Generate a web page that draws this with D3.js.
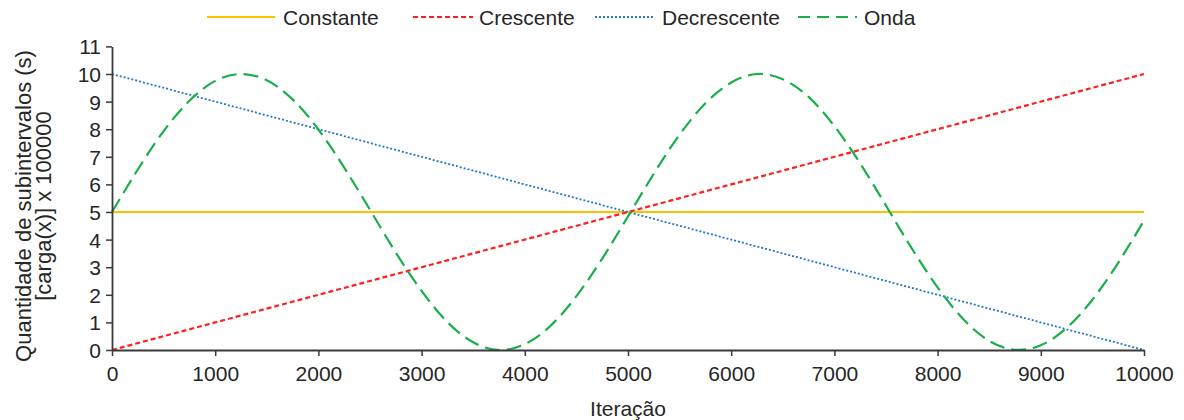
<!DOCTYPE html>
<html>
<head>
<meta charset="utf-8">
<script src="https://cdn.jsdelivr.net/npm/d3@7/dist/d3.min.js"></script>
<style>
  html, body { margin: 0; padding: 0; background: #fff; }
  svg text { font-family: "Liberation Sans", Arial, sans-serif; fill: #262626; }
</style>
</head>
<body>
<svg id="chart" width="1184" height="420"></svg>
<script>
// Iteration positions (x) shared by every series
const iteracoes = [0, 250, 500, 750, 1000, 1250, 1500, 1750, 2000, 2250, 2500,
  2750, 3000, 3250, 3500, 3750, 4000, 4250, 4500, 4750, 5000,
  5250, 5500, 5750, 6000, 6250, 6500, 6750, 7000, 7250, 7500,
  7750, 8000, 8250, 8500, 8750, 9000, 9250, 9500, 9750, 10000];

// Load profiles, subintervals [carga(x)] x 100000
const constante   = [5, 5];
const crescente   = [0, 10];
const decrescente = [10, 0];
const extremos    = [0, 10000];
const onda = [5.00, 6.54, 7.93, 9.03, 9.75, 10.00, 9.77, 9.08, 7.99, 6.61, 5.08,
  3.53, 2.14, 1.01, 0.28, 0.00, 0.21, 0.88, 1.95, 3.31, 4.84,
  6.39, 7.80, 8.94, 9.69, 10.00, 9.81, 9.17, 8.11, 6.76, 5.23,
  3.68, 2.27, 1.11, 0.33, 0.01, 0.17, 0.80, 1.82, 3.16, 4.69];

const xTicks = [0, 1000, 2000, 3000, 4000, 5000, 6000, 7000, 8000, 9000, 10000];
const yTicks = [0, 1, 2, 3, 4, 5, 6, 7, 8, 9, 10, 11];

const svg = d3.select("#chart");
const plotLeft = 112, plotRight = 1144, plotTop = 46.4, plotBottom = 350;

const x = d3.scaleLinear().domain([0, 10000]).range([plotLeft, plotRight]);
const y = d3.scaleLinear().domain([0, 11]).range([plotBottom, plotTop]);

const series = [
  { name: "Constante",   xs: extremos,  ys: constante,   color: "#FFC000", width: 2,   dash: null,   legDash: null,   curve: d3.curveLinear },
  { name: "Crescente",   xs: extremos,  ys: crescente,   color: "#FF2020", width: 2.2, dash: "5,3",  legDash: "5,3",  curve: d3.curveLinear },
  { name: "Decrescente", xs: extremos,  ys: decrescente, color: "#1F78C8", width: 1.8, dash: "2,2",  legDash: "2,2",  curve: d3.curveLinear },
  { name: "Onda",        xs: iteracoes, ys: onda,        color: "#1AAF4B", width: 2.2, dash: "15,7", legDash: "12,7", curve: d3.curveNatural }
];

// Series lines
series.forEach(s => {
  const pts = s.xs.map((v, i) => [v, s.ys[i]]);
  const line = d3.line().x(d => x(d[0])).y(d => y(d[1])).curve(s.curve);
  svg.append("path")
    .attr("d", line(pts))
    .attr("fill", "none")
    .attr("stroke", s.color)
    .attr("stroke-width", s.width)
    .attr("stroke-dasharray", s.dash);
});

// Axes
const xAxis = d3.axisBottom(x).tickValues(xTicks).tickFormat(d3.format("d"))
  .tickSize(6).tickPadding(10).tickSizeOuter(0);
const yAxis = d3.axisLeft(y).tickValues(yTicks).tickFormat(d3.format("d"))
  .tickSize(6).tickPadding(5).tickSizeOuter(0);

const gx = svg.append("g").attr("transform", `translate(0,${plotBottom})`).call(xAxis);
const gy = svg.append("g").attr("transform", `translate(${plotLeft},0)`).call(yAxis);

[gx, gy].forEach(g => {
  g.select(".domain").attr("stroke", "#3a3a3a").attr("stroke-width", 1.8);
  g.selectAll(".tick line").attr("stroke", "#3a3a3a").attr("stroke-width", 1.5);
  g.selectAll(".tick text").style("font-size", "21px").attr("fill", "#262626")
    .style("font-family", "'Liberation Sans', Arial, sans-serif");
});
gy.selectAll(".tick text").attr("dy", "0.36em");

// Axis titles
svg.append("text")
  .attr("x", (plotLeft + plotRight) / 2).attr("y", 416)
  .attr("text-anchor", "middle").style("font-size", "21px")
  .text("Iteração");

const yTitle = svg.append("text")
  .attr("transform", "translate(0,206) rotate(-90)")
  .attr("text-anchor", "middle").style("font-size", "22px");
yTitle.append("tspan").attr("x", 0).attr("y", 31).text("Quantidade de subintervalos (s)");
yTitle.append("tspan").attr("x", 0).attr("y", 51).text("[carga(x)] x 100000");

// Legend
const legendPos = [
  { x0: 207, x1: 275, tx: 283 },
  { x0: 413, x1: 473, tx: 479 },
  { x0: 595, x1: 654, tx: 662 },
  { x0: 798, x1: 857, tx: 864 }
];
series.forEach((s, i) => {
  const p = legendPos[i];
  svg.append("line")
    .attr("x1", p.x0).attr("x2", p.x1).attr("y1", 17).attr("y2", 17)
    .attr("stroke", s.color).attr("stroke-width", s.width)
    .attr("stroke-dasharray", s.legDash);
  svg.append("text")
    .attr("x", p.tx).attr("y", 25).style("font-size", "21px")
    .text(s.name);
});
</script>
</body>
</html>
